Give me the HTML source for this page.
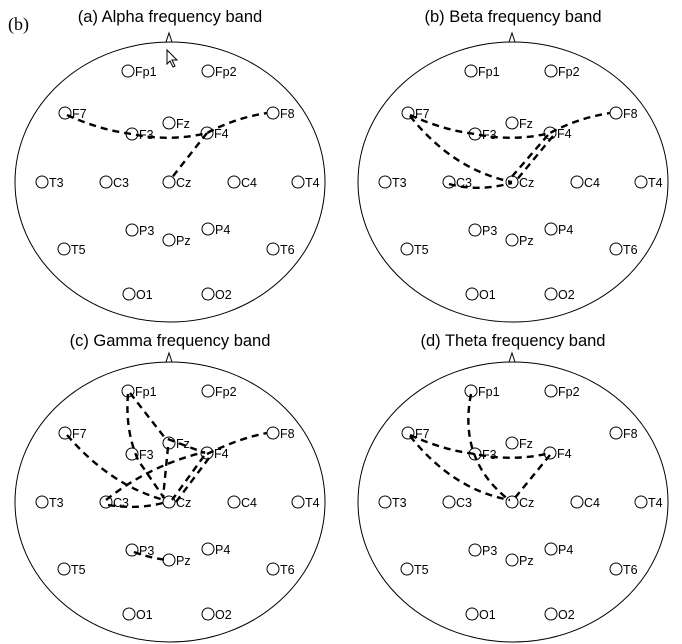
<!DOCTYPE html>
<html><head><style>
html,body{margin:0;padding:0;background:#fff;}
svg{display:block;font-family:"Liberation Sans",sans-serif;}
.e circle{fill:none;stroke:#000;stroke-width:1;}
.e text{font-size:12.5px;fill:#000;}
.l{fill:none;stroke:#000;stroke-width:2.4;stroke-dasharray:7,5;}
.h{fill:none;stroke:#000;stroke-width:1;}
.t{font-size:16.5px;fill:#000;text-anchor:middle;}
</style></head><body>
<svg width="682" height="644" viewBox="0 0 682 644">
<text x="8" y="30" font-family="Liberation Serif,serif" font-size="18">(b)</text>

<g>
<text class="t" x="170" y="22">(a) Alpha frequency band</text>
<ellipse class="h" cx="170" cy="182" rx="155" ry="140"/>
<path class="h" d="M166,42 L169,33 L172,42"/>
<path d="M167,50 L167,64 L170,61 L173,67 L175,66 L172,60 L177,60 Z" fill="#fff" stroke="#000" stroke-width="1"/>
<g class="e">
<circle cx="128" cy="71" r="6"/><text x="135" y="76">Fp1</text>
<circle cx="208" cy="71" r="6"/><text x="215" y="76">Fp2</text>
<circle cx="65" cy="113" r="6"/><text x="72" y="118">F7</text>
<circle cx="169" cy="123" r="6"/><text x="176" y="128">Fz</text>
<circle cx="273" cy="113" r="6"/><text x="280" y="118">F8</text>
<circle cx="132" cy="134" r="6"/><text x="139" y="139">F3</text>
<circle cx="207" cy="133" r="6"/><text x="214" y="138">F4</text>
<circle cx="42" cy="182" r="6"/><text x="49" y="187">T3</text>
<circle cx="106" cy="182" r="6"/><text x="113" y="187">C3</text>
<circle cx="169" cy="182" r="6"/><text x="176" y="187">Cz</text>
<circle cx="234" cy="182" r="6"/><text x="241" y="187">C4</text>
<circle cx="298" cy="182" r="6"/><text x="305" y="187">T4</text>
<circle cx="132" cy="230" r="6"/><text x="139" y="235">P3</text>
<circle cx="208" cy="229" r="6"/><text x="215" y="234">P4</text>
<circle cx="169" cy="240" r="6"/><text x="176" y="245">Pz</text>
<circle cx="64" cy="249" r="6"/><text x="71" y="254">T5</text>
<circle cx="273" cy="249" r="6"/><text x="280" y="254">T6</text>
<circle cx="129" cy="294" r="6"/><text x="136" y="299">O1</text>
<circle cx="208" cy="294" r="6"/><text x="215" y="299">O2</text>
</g>
<path class="l" d="M67,115 Q100,130 132,134 Q170,142 207,133 Q235,118 267,113"/>
<path class="l" d="M207,133 L170,180"/>
</g>

<g transform="translate(343,0)">
<text class="t" x="170" y="22">(b) Beta frequency band</text>
<ellipse class="h" cx="170" cy="182" rx="155" ry="140"/>
<path class="h" d="M166,42 L169,33 L172,42"/>
<g class="e">
<circle cx="128" cy="71" r="6"/><text x="135" y="76">Fp1</text>
<circle cx="208" cy="71" r="6"/><text x="215" y="76">Fp2</text>
<circle cx="65" cy="113" r="6"/><text x="72" y="118">F7</text>
<circle cx="169" cy="123" r="6"/><text x="176" y="128">Fz</text>
<circle cx="273" cy="113" r="6"/><text x="280" y="118">F8</text>
<circle cx="132" cy="134" r="6"/><text x="139" y="139">F3</text>
<circle cx="207" cy="133" r="6"/><text x="214" y="138">F4</text>
<circle cx="42" cy="182" r="6"/><text x="49" y="187">T3</text>
<circle cx="106" cy="182" r="6"/><text x="113" y="187">C3</text>
<circle cx="169" cy="182" r="6"/><text x="176" y="187">Cz</text>
<circle cx="234" cy="182" r="6"/><text x="241" y="187">C4</text>
<circle cx="298" cy="182" r="6"/><text x="305" y="187">T4</text>
<circle cx="132" cy="230" r="6"/><text x="139" y="235">P3</text>
<circle cx="208" cy="229" r="6"/><text x="215" y="234">P4</text>
<circle cx="169" cy="240" r="6"/><text x="176" y="245">Pz</text>
<circle cx="64" cy="249" r="6"/><text x="71" y="254">T5</text>
<circle cx="273" cy="249" r="6"/><text x="280" y="254">T6</text>
<circle cx="129" cy="294" r="6"/><text x="136" y="299">O1</text>
<circle cx="208" cy="294" r="6"/><text x="215" y="299">O2</text>
</g>
<path class="l" d="M67,115 Q100,130 132,134 Q170,142 207,133 Q235,118 267,113"/>
<path class="l" d="M67,116 Q110,170 169,182"/>
<path class="l" d="M106,184 Q135,192 169,183"/>
<path class="l" d="M205,135 L166,180"/>
<path class="l" d="M210,136 L172,182"/>
</g>

<g transform="translate(0,320)">
<text class="t" x="170" y="26">(c) Gamma frequency band</text>
<ellipse class="h" cx="170" cy="182" rx="155" ry="140"/>
<path class="h" d="M166,42 L169,33 L172,42"/>
<g class="e">
<circle cx="128" cy="71" r="6"/><text x="135" y="76">Fp1</text>
<circle cx="208" cy="71" r="6"/><text x="215" y="76">Fp2</text>
<circle cx="65" cy="113" r="6"/><text x="72" y="118">F7</text>
<circle cx="169" cy="123" r="6"/><text x="176" y="128">Fz</text>
<circle cx="273" cy="113" r="6"/><text x="280" y="118">F8</text>
<circle cx="132" cy="134" r="6"/><text x="139" y="139">F3</text>
<circle cx="207" cy="133" r="6"/><text x="214" y="138">F4</text>
<circle cx="42" cy="182" r="6"/><text x="49" y="187">T3</text>
<circle cx="106" cy="182" r="6"/><text x="113" y="187">C3</text>
<circle cx="169" cy="182" r="6"/><text x="176" y="187">Cz</text>
<circle cx="234" cy="182" r="6"/><text x="241" y="187">C4</text>
<circle cx="298" cy="182" r="6"/><text x="305" y="187">T4</text>
<circle cx="132" cy="230" r="6"/><text x="139" y="235">P3</text>
<circle cx="208" cy="229" r="6"/><text x="215" y="234">P4</text>
<circle cx="169" cy="240" r="6"/><text x="176" y="245">Pz</text>
<circle cx="64" cy="249" r="6"/><text x="71" y="254">T5</text>
<circle cx="273" cy="249" r="6"/><text x="280" y="254">T6</text>
<circle cx="129" cy="294" r="6"/><text x="136" y="299">O1</text>
<circle cx="208" cy="294" r="6"/><text x="215" y="299">O2</text>
</g>
<path class="l" d="M128,74 Q125,110 138,140 L164,178"/>
<path class="l" d="M130,73 L165,118 L205,133"/>
<path class="l" d="M67,115 Q110,165 164,180"/>
<path class="l" d="M108,185 Q140,190 166,182"/>
<path class="l" d="M106,180 Q150,145 205,132"/>
<path class="l" d="M207,134 Q240,118 267,113"/>
<path class="l" d="M204,136 L172,180"/>
<path class="l" d="M209,138 L176,182"/>
<path class="l" d="M168,127 L163,178"/>
<path class="l" d="M134,232 Q150,238 167,240"/>
</g>

<g transform="translate(343,320)">
<text class="t" x="170" y="26">(d) Theta frequency band</text>
<ellipse class="h" cx="170" cy="182" rx="155" ry="140"/>
<path class="h" d="M166,42 L169,33 L172,42"/>
<g class="e">
<circle cx="128" cy="71" r="6"/><text x="135" y="76">Fp1</text>
<circle cx="208" cy="71" r="6"/><text x="215" y="76">Fp2</text>
<circle cx="65" cy="113" r="6"/><text x="72" y="118">F7</text>
<circle cx="169" cy="123" r="6"/><text x="176" y="128">Fz</text>
<circle cx="273" cy="113" r="6"/><text x="280" y="118">F8</text>
<circle cx="132" cy="134" r="6"/><text x="139" y="139">F3</text>
<circle cx="207" cy="133" r="6"/><text x="214" y="138">F4</text>
<circle cx="42" cy="182" r="6"/><text x="49" y="187">T3</text>
<circle cx="106" cy="182" r="6"/><text x="113" y="187">C3</text>
<circle cx="169" cy="182" r="6"/><text x="176" y="187">Cz</text>
<circle cx="234" cy="182" r="6"/><text x="241" y="187">C4</text>
<circle cx="298" cy="182" r="6"/><text x="305" y="187">T4</text>
<circle cx="132" cy="230" r="6"/><text x="139" y="235">P3</text>
<circle cx="208" cy="229" r="6"/><text x="215" y="234">P4</text>
<circle cx="169" cy="240" r="6"/><text x="176" y="245">Pz</text>
<circle cx="64" cy="249" r="6"/><text x="71" y="254">T5</text>
<circle cx="273" cy="249" r="6"/><text x="280" y="254">T6</text>
<circle cx="129" cy="294" r="6"/><text x="136" y="299">O1</text>
<circle cx="208" cy="294" r="6"/><text x="215" y="299">O2</text>
</g>
<path class="l" d="M128,74 Q115,140 166,180"/>
<path class="l" d="M67,115 Q100,130 132,134 Q170,142 207,133"/>
<path class="l" d="M67,116 Q110,170 167,180"/>
<path class="l" d="M207,135 L171,179"/>
</g>
</svg>
</body></html>
